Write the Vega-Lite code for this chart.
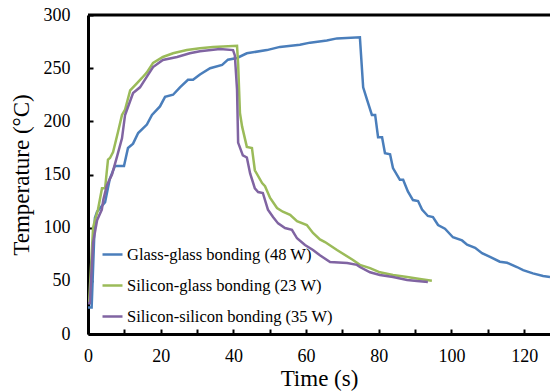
{
  "$schema": "https://vega.github.io/schema/vega-lite/v6.json",
  "width": 462,
  "height": 319,
  "autosize": {"type": "none"},
  "padding": {"left": 88, "top": 15, "right": 0, "bottom": 58},
  "background": "white",
  "config": {
    "view": {"stroke": null},
    "font": "Liberation Serif",
    "text": {"font": "Liberation Serif"}
  },
  "datasets": {
    "curves": [
      {"s": "Glass-glass bonding (48 W)", "t": 0, "T": 25},
      {"s": "Glass-glass bonding (48 W)", "t": 1, "T": 25},
      {"s": "Glass-glass bonding (48 W)", "t": 1.9, "T": 109},
      {"s": "Glass-glass bonding (48 W)", "t": 2.5, "T": 115},
      {"s": "Glass-glass bonding (48 W)", "t": 4.7, "T": 124},
      {"s": "Glass-glass bonding (48 W)", "t": 6.0, "T": 146},
      {"s": "Glass-glass bonding (48 W)", "t": 7.4, "T": 158},
      {"s": "Glass-glass bonding (48 W)", "t": 9.9, "T": 158},
      {"s": "Glass-glass bonding (48 W)", "t": 11, "T": 175},
      {"s": "Glass-glass bonding (48 W)", "t": 12.4, "T": 179},
      {"s": "Glass-glass bonding (48 W)", "t": 13.8, "T": 189},
      {"s": "Glass-glass bonding (48 W)", "t": 16.2, "T": 197},
      {"s": "Glass-glass bonding (48 W)", "t": 17.6, "T": 206},
      {"s": "Glass-glass bonding (48 W)", "t": 19.8, "T": 214},
      {"s": "Glass-glass bonding (48 W)", "t": 21.2, "T": 223},
      {"s": "Glass-glass bonding (48 W)", "t": 23.4, "T": 225},
      {"s": "Glass-glass bonding (48 W)", "t": 25.3, "T": 232},
      {"s": "Glass-glass bonding (48 W)", "t": 27.5, "T": 239},
      {"s": "Glass-glass bonding (48 W)", "t": 28.9, "T": 239},
      {"s": "Glass-glass bonding (48 W)", "t": 30.8, "T": 244},
      {"s": "Glass-glass bonding (48 W)", "t": 33.6, "T": 250},
      {"s": "Glass-glass bonding (48 W)", "t": 36.9, "T": 253},
      {"s": "Glass-glass bonding (48 W)", "t": 38.5, "T": 258},
      {"s": "Glass-glass bonding (48 W)", "t": 41, "T": 259.6},
      {"s": "Glass-glass bonding (48 W)", "t": 43.7, "T": 264},
      {"s": "Glass-glass bonding (48 W)", "t": 49.2, "T": 267},
      {"s": "Glass-glass bonding (48 W)", "t": 52.8, "T": 270},
      {"s": "Glass-glass bonding (48 W)", "t": 58.3, "T": 272},
      {"s": "Glass-glass bonding (48 W)", "t": 61.1, "T": 274},
      {"s": "Glass-glass bonding (48 W)", "t": 65.7, "T": 276},
      {"s": "Glass-glass bonding (48 W)", "t": 68.5, "T": 278},
      {"s": "Glass-glass bonding (48 W)", "t": 74.8, "T": 279},
      {"s": "Glass-glass bonding (48 W)", "t": 75.7, "T": 232},
      {"s": "Glass-glass bonding (48 W)", "t": 76.8, "T": 220},
      {"s": "Glass-glass bonding (48 W)", "t": 78.1, "T": 206},
      {"s": "Glass-glass bonding (48 W)", "t": 79, "T": 206},
      {"s": "Glass-glass bonding (48 W)", "t": 79.8, "T": 185},
      {"s": "Glass-glass bonding (48 W)", "t": 80.9, "T": 185},
      {"s": "Glass-glass bonding (48 W)", "t": 81.7, "T": 170},
      {"s": "Glass-glass bonding (48 W)", "t": 83.1, "T": 169},
      {"s": "Glass-glass bonding (48 W)", "t": 83.9, "T": 156},
      {"s": "Glass-glass bonding (48 W)", "t": 85.8, "T": 145},
      {"s": "Glass-glass bonding (48 W)", "t": 86.7, "T": 145},
      {"s": "Glass-glass bonding (48 W)", "t": 88, "T": 134},
      {"s": "Glass-glass bonding (48 W)", "t": 89.4, "T": 126},
      {"s": "Glass-glass bonding (48 W)", "t": 90.8, "T": 125},
      {"s": "Glass-glass bonding (48 W)", "t": 91.9, "T": 117},
      {"s": "Glass-glass bonding (48 W)", "t": 93.5, "T": 111},
      {"s": "Glass-glass bonding (48 W)", "t": 94.9, "T": 110},
      {"s": "Glass-glass bonding (48 W)", "t": 96.3, "T": 102.5},
      {"s": "Glass-glass bonding (48 W)", "t": 98.2, "T": 99},
      {"s": "Glass-glass bonding (48 W)", "t": 100.4, "T": 91},
      {"s": "Glass-glass bonding (48 W)", "t": 102.9, "T": 88},
      {"s": "Glass-glass bonding (48 W)", "t": 104.3, "T": 84},
      {"s": "Glass-glass bonding (48 W)", "t": 106.5, "T": 81},
      {"s": "Glass-glass bonding (48 W)", "t": 108.4, "T": 76},
      {"s": "Glass-glass bonding (48 W)", "t": 110.6, "T": 72.5},
      {"s": "Glass-glass bonding (48 W)", "t": 113.3, "T": 68},
      {"s": "Glass-glass bonding (48 W)", "t": 115.3, "T": 67},
      {"s": "Glass-glass bonding (48 W)", "t": 118, "T": 63},
      {"s": "Glass-glass bonding (48 W)", "t": 119.7, "T": 60},
      {"s": "Glass-glass bonding (48 W)", "t": 122.4, "T": 57},
      {"s": "Glass-glass bonding (48 W)", "t": 125.2, "T": 54.5},
      {"s": "Glass-glass bonding (48 W)", "t": 127.1, "T": 53.6},

      {"s": "Silicon-glass bonding (23 W)", "t": 0.3, "T": 29},
      {"s": "Silicon-glass bonding (23 W)", "t": 1.4, "T": 100},
      {"s": "Silicon-glass bonding (23 W)", "t": 1.9, "T": 107},
      {"s": "Silicon-glass bonding (23 W)", "t": 2.75, "T": 117},
      {"s": "Silicon-glass bonding (23 W)", "t": 3.85, "T": 137},
      {"s": "Silicon-glass bonding (23 W)", "t": 4.7, "T": 137},
      {"s": "Silicon-glass bonding (23 W)", "t": 5.5, "T": 164},
      {"s": "Silicon-glass bonding (23 W)", "t": 6.05, "T": 165.5},
      {"s": "Silicon-glass bonding (23 W)", "t": 6.9, "T": 171},
      {"s": "Silicon-glass bonding (23 W)", "t": 8.25, "T": 190},
      {"s": "Silicon-glass bonding (23 W)", "t": 9.35, "T": 206},
      {"s": "Silicon-glass bonding (23 W)", "t": 10.2, "T": 211},
      {"s": "Silicon-glass bonding (23 W)", "t": 11.6, "T": 229},
      {"s": "Silicon-glass bonding (23 W)", "t": 13.5, "T": 236},
      {"s": "Silicon-glass bonding (23 W)", "t": 14.9, "T": 241},
      {"s": "Silicon-glass bonding (23 W)", "t": 16.2, "T": 246},
      {"s": "Silicon-glass bonding (23 W)", "t": 17.9, "T": 255},
      {"s": "Silicon-glass bonding (23 W)", "t": 20.6, "T": 260.5},
      {"s": "Silicon-glass bonding (23 W)", "t": 23.4, "T": 264},
      {"s": "Silicon-glass bonding (23 W)", "t": 27.2, "T": 267},
      {"s": "Silicon-glass bonding (23 W)", "t": 30.8, "T": 268.7},
      {"s": "Silicon-glass bonding (23 W)", "t": 34.4, "T": 270},
      {"s": "Silicon-glass bonding (23 W)", "t": 41, "T": 271},
      {"s": "Silicon-glass bonding (23 W)", "t": 41.3, "T": 254},
      {"s": "Silicon-glass bonding (23 W)", "t": 41.8, "T": 208},
      {"s": "Silicon-glass bonding (23 W)", "t": 42.4, "T": 195},
      {"s": "Silicon-glass bonding (23 W)", "t": 43.7, "T": 176},
      {"s": "Silicon-glass bonding (23 W)", "t": 45.1, "T": 175},
      {"s": "Silicon-glass bonding (23 W)", "t": 45.9, "T": 154},
      {"s": "Silicon-glass bonding (23 W)", "t": 47.9, "T": 142},
      {"s": "Silicon-glass bonding (23 W)", "t": 48.7, "T": 139},
      {"s": "Silicon-glass bonding (23 W)", "t": 50.1, "T": 128},
      {"s": "Silicon-glass bonding (23 W)", "t": 52, "T": 118.5},
      {"s": "Silicon-glass bonding (23 W)", "t": 53.6, "T": 115},
      {"s": "Silicon-glass bonding (23 W)", "t": 55.6, "T": 112},
      {"s": "Silicon-glass bonding (23 W)", "t": 57.5, "T": 106},
      {"s": "Silicon-glass bonding (23 W)", "t": 60.2, "T": 102.5},
      {"s": "Silicon-glass bonding (23 W)", "t": 61.9, "T": 95},
      {"s": "Silicon-glass bonding (23 W)", "t": 63.8, "T": 89},
      {"s": "Silicon-glass bonding (23 W)", "t": 65.2, "T": 86.5},
      {"s": "Silicon-glass bonding (23 W)", "t": 68.5, "T": 79},
      {"s": "Silicon-glass bonding (23 W)", "t": 72.9, "T": 69.6},
      {"s": "Silicon-glass bonding (23 W)", "t": 74.8, "T": 65},
      {"s": "Silicon-glass bonding (23 W)", "t": 77.6, "T": 62},
      {"s": "Silicon-glass bonding (23 W)", "t": 80.3, "T": 58},
      {"s": "Silicon-glass bonding (23 W)", "t": 83.9, "T": 55.5},
      {"s": "Silicon-glass bonding (23 W)", "t": 87.8, "T": 53.6},
      {"s": "Silicon-glass bonding (23 W)", "t": 91.3, "T": 51.7},
      {"s": "Silicon-glass bonding (23 W)", "t": 94.6, "T": 50},

      {"s": "Silicon-silicon bonding (35 W)", "t": 0, "T": 29},
      {"s": "Silicon-silicon bonding (35 W)", "t": 0.5, "T": 29},
      {"s": "Silicon-silicon bonding (35 W)", "t": 1.4, "T": 86},
      {"s": "Silicon-silicon bonding (35 W)", "t": 2.5, "T": 107},
      {"s": "Silicon-silicon bonding (35 W)", "t": 3.8, "T": 117},
      {"s": "Silicon-silicon bonding (35 W)", "t": 4.2, "T": 126},
      {"s": "Silicon-silicon bonding (35 W)", "t": 5.2, "T": 140},
      {"s": "Silicon-silicon bonding (35 W)", "t": 6.6, "T": 150},
      {"s": "Silicon-silicon bonding (35 W)", "t": 8, "T": 167},
      {"s": "Silicon-silicon bonding (35 W)", "t": 9.35, "T": 184},
      {"s": "Silicon-silicon bonding (35 W)", "t": 10.2, "T": 206},
      {"s": "Silicon-silicon bonding (35 W)", "t": 11, "T": 213.5},
      {"s": "Silicon-silicon bonding (35 W)", "t": 12.4, "T": 226.6},
      {"s": "Silicon-silicon bonding (35 W)", "t": 14.3, "T": 232},
      {"s": "Silicon-silicon bonding (35 W)", "t": 16.2, "T": 242},
      {"s": "Silicon-silicon bonding (35 W)", "t": 17.9, "T": 251},
      {"s": "Silicon-silicon bonding (35 W)", "t": 20.6, "T": 257.7},
      {"s": "Silicon-silicon bonding (35 W)", "t": 24.5, "T": 260.5},
      {"s": "Silicon-silicon bonding (35 W)", "t": 28, "T": 264},
      {"s": "Silicon-silicon bonding (35 W)", "t": 30.8, "T": 266},
      {"s": "Silicon-silicon bonding (35 W)", "t": 36.3, "T": 268},
      {"s": "Silicon-silicon bonding (35 W)", "t": 39.9, "T": 267},
      {"s": "Silicon-silicon bonding (35 W)", "t": 40.4, "T": 262},
      {"s": "Silicon-silicon bonding (35 W)", "t": 41, "T": 230},
      {"s": "Silicon-silicon bonding (35 W)", "t": 41.3, "T": 180},
      {"s": "Silicon-silicon bonding (35 W)", "t": 42.6, "T": 168},
      {"s": "Silicon-silicon bonding (35 W)", "t": 43.7, "T": 166},
      {"s": "Silicon-silicon bonding (35 W)", "t": 44.6, "T": 151},
      {"s": "Silicon-silicon bonding (35 W)", "t": 45.9, "T": 137},
      {"s": "Silicon-silicon bonding (35 W)", "t": 46.8, "T": 133.5},
      {"s": "Silicon-silicon bonding (35 W)", "t": 48.1, "T": 132.6},
      {"s": "Silicon-silicon bonding (35 W)", "t": 49.5, "T": 117},
      {"s": "Silicon-silicon bonding (35 W)", "t": 50.9, "T": 110},
      {"s": "Silicon-silicon bonding (35 W)", "t": 52.3, "T": 104},
      {"s": "Silicon-silicon bonding (35 W)", "t": 54.2, "T": 99.7},
      {"s": "Silicon-silicon bonding (35 W)", "t": 56.1, "T": 98},
      {"s": "Silicon-silicon bonding (35 W)", "t": 57.5, "T": 90},
      {"s": "Silicon-silicon bonding (35 W)", "t": 59.7, "T": 83.7},
      {"s": "Silicon-silicon bonding (35 W)", "t": 61.9, "T": 79},
      {"s": "Silicon-silicon bonding (35 W)", "t": 63.8, "T": 74},
      {"s": "Silicon-silicon bonding (35 W)", "t": 66.6, "T": 67.7},
      {"s": "Silicon-silicon bonding (35 W)", "t": 71.3, "T": 66.8},
      {"s": "Silicon-silicon bonding (35 W)", "t": 74, "T": 65},
      {"s": "Silicon-silicon bonding (35 W)", "t": 74.8, "T": 63},
      {"s": "Silicon-silicon bonding (35 W)", "t": 77.6, "T": 58},
      {"s": "Silicon-silicon bonding (35 W)", "t": 80.3, "T": 55.5},
      {"s": "Silicon-silicon bonding (35 W)", "t": 83.9, "T": 53.6},
      {"s": "Silicon-silicon bonding (35 W)", "t": 87.8, "T": 50.8},
      {"s": "Silicon-silicon bonding (35 W)", "t": 90.5, "T": 49.8},
      {"s": "Silicon-silicon bonding (35 W)", "t": 93.5, "T": 49}
    ],
    "top": [{"v": 300}]
  },
  "layer": [
    {
      "data": {"name": "top"},
      "mark": {"type": "rule", "color": "black", "strokeWidth": 3},
      "encoding": {
        "y": {"field": "v", "type": "quantitative", "scale": {"domain": [0, 300]}}
      }
    },
    {
      "data": {"name": "curves"},
      "mark": {"type": "line", "strokeWidth": 2.5, "clip": true},
      "encoding": {
        "x": {
          "field": "t", "type": "quantitative",
          "scale": {"domain": [0, 127.1], "nice": false, "zero": false},
          "axis": {
            "title": "Time (s)",
            "titleFont": "Liberation Serif", "titleFontSize": 23, "titleFontWeight": "normal", "titleColor": "black",
            "titlePadding": 2,
            "values": [0, 10, 20, 30, 40, 50, 60, 70, 80, 90, 100, 110, 120],
            "labelExpr": "datum.value % 20 === 0 ? datum.label : ''",
            "labelFont": "Liberation Serif", "labelFontSize": 18, "labelColor": "black",
            "labelPadding": 18, "labelFlush": false,
            "domainColor": "black", "domainWidth": 3,
            "tickColor": "black", "tickWidth": 2, "tickSize": -5,
            "grid": false
          }
        },
        "y": {
          "field": "T", "type": "quantitative",
          "scale": {"domain": [0, 300], "nice": false},
          "axis": {
            "title": "Temperature (°C)",
            "titleFont": "Liberation Serif", "titleFontSize": 23, "titleFontWeight": "normal", "titleColor": "black",
            "titlePadding": 10,
            "values": [0, 25, 50, 75, 100, 125, 150, 175, 200, 225, 250, 275, 300],
            "labelExpr": "datum.value % 50 === 0 ? datum.label : ''",
            "labelFont": "Liberation Serif", "labelFontSize": 18, "labelColor": "black",
            "labelPadding": 23, "labelFlush": false,
            "domainColor": "black", "domainWidth": 3,
            "tickColor": "black", "tickWidth": 2, "tickSize": -5,
            "grid": false
          }
        },
        "color": {
          "field": "s", "type": "nominal",
          "scale": {
            "domain": ["Glass-glass bonding (48 W)", "Silicon-glass bonding (23 W)", "Silicon-silicon bonding (35 W)"],
            "range": ["#4A7EBB", "#9BBB59", "#8064A2"]
          },
          "legend": {
            "title": null,
            "orient": "none",
            "legendX": 13,
            "legendY": 228,
            "symbolType": "stroke",
            "symbolSize": 400,
            "symbolStrokeWidth": 2.5,
            "labelFont": "Liberation Serif",
            "labelFontSize": 16.5,
            "labelColor": "black",
            "labelOffset": 3,
            "rowPadding": 11,
            "labelLimit": 400
          }
        }
      }
    }
  ]
}
